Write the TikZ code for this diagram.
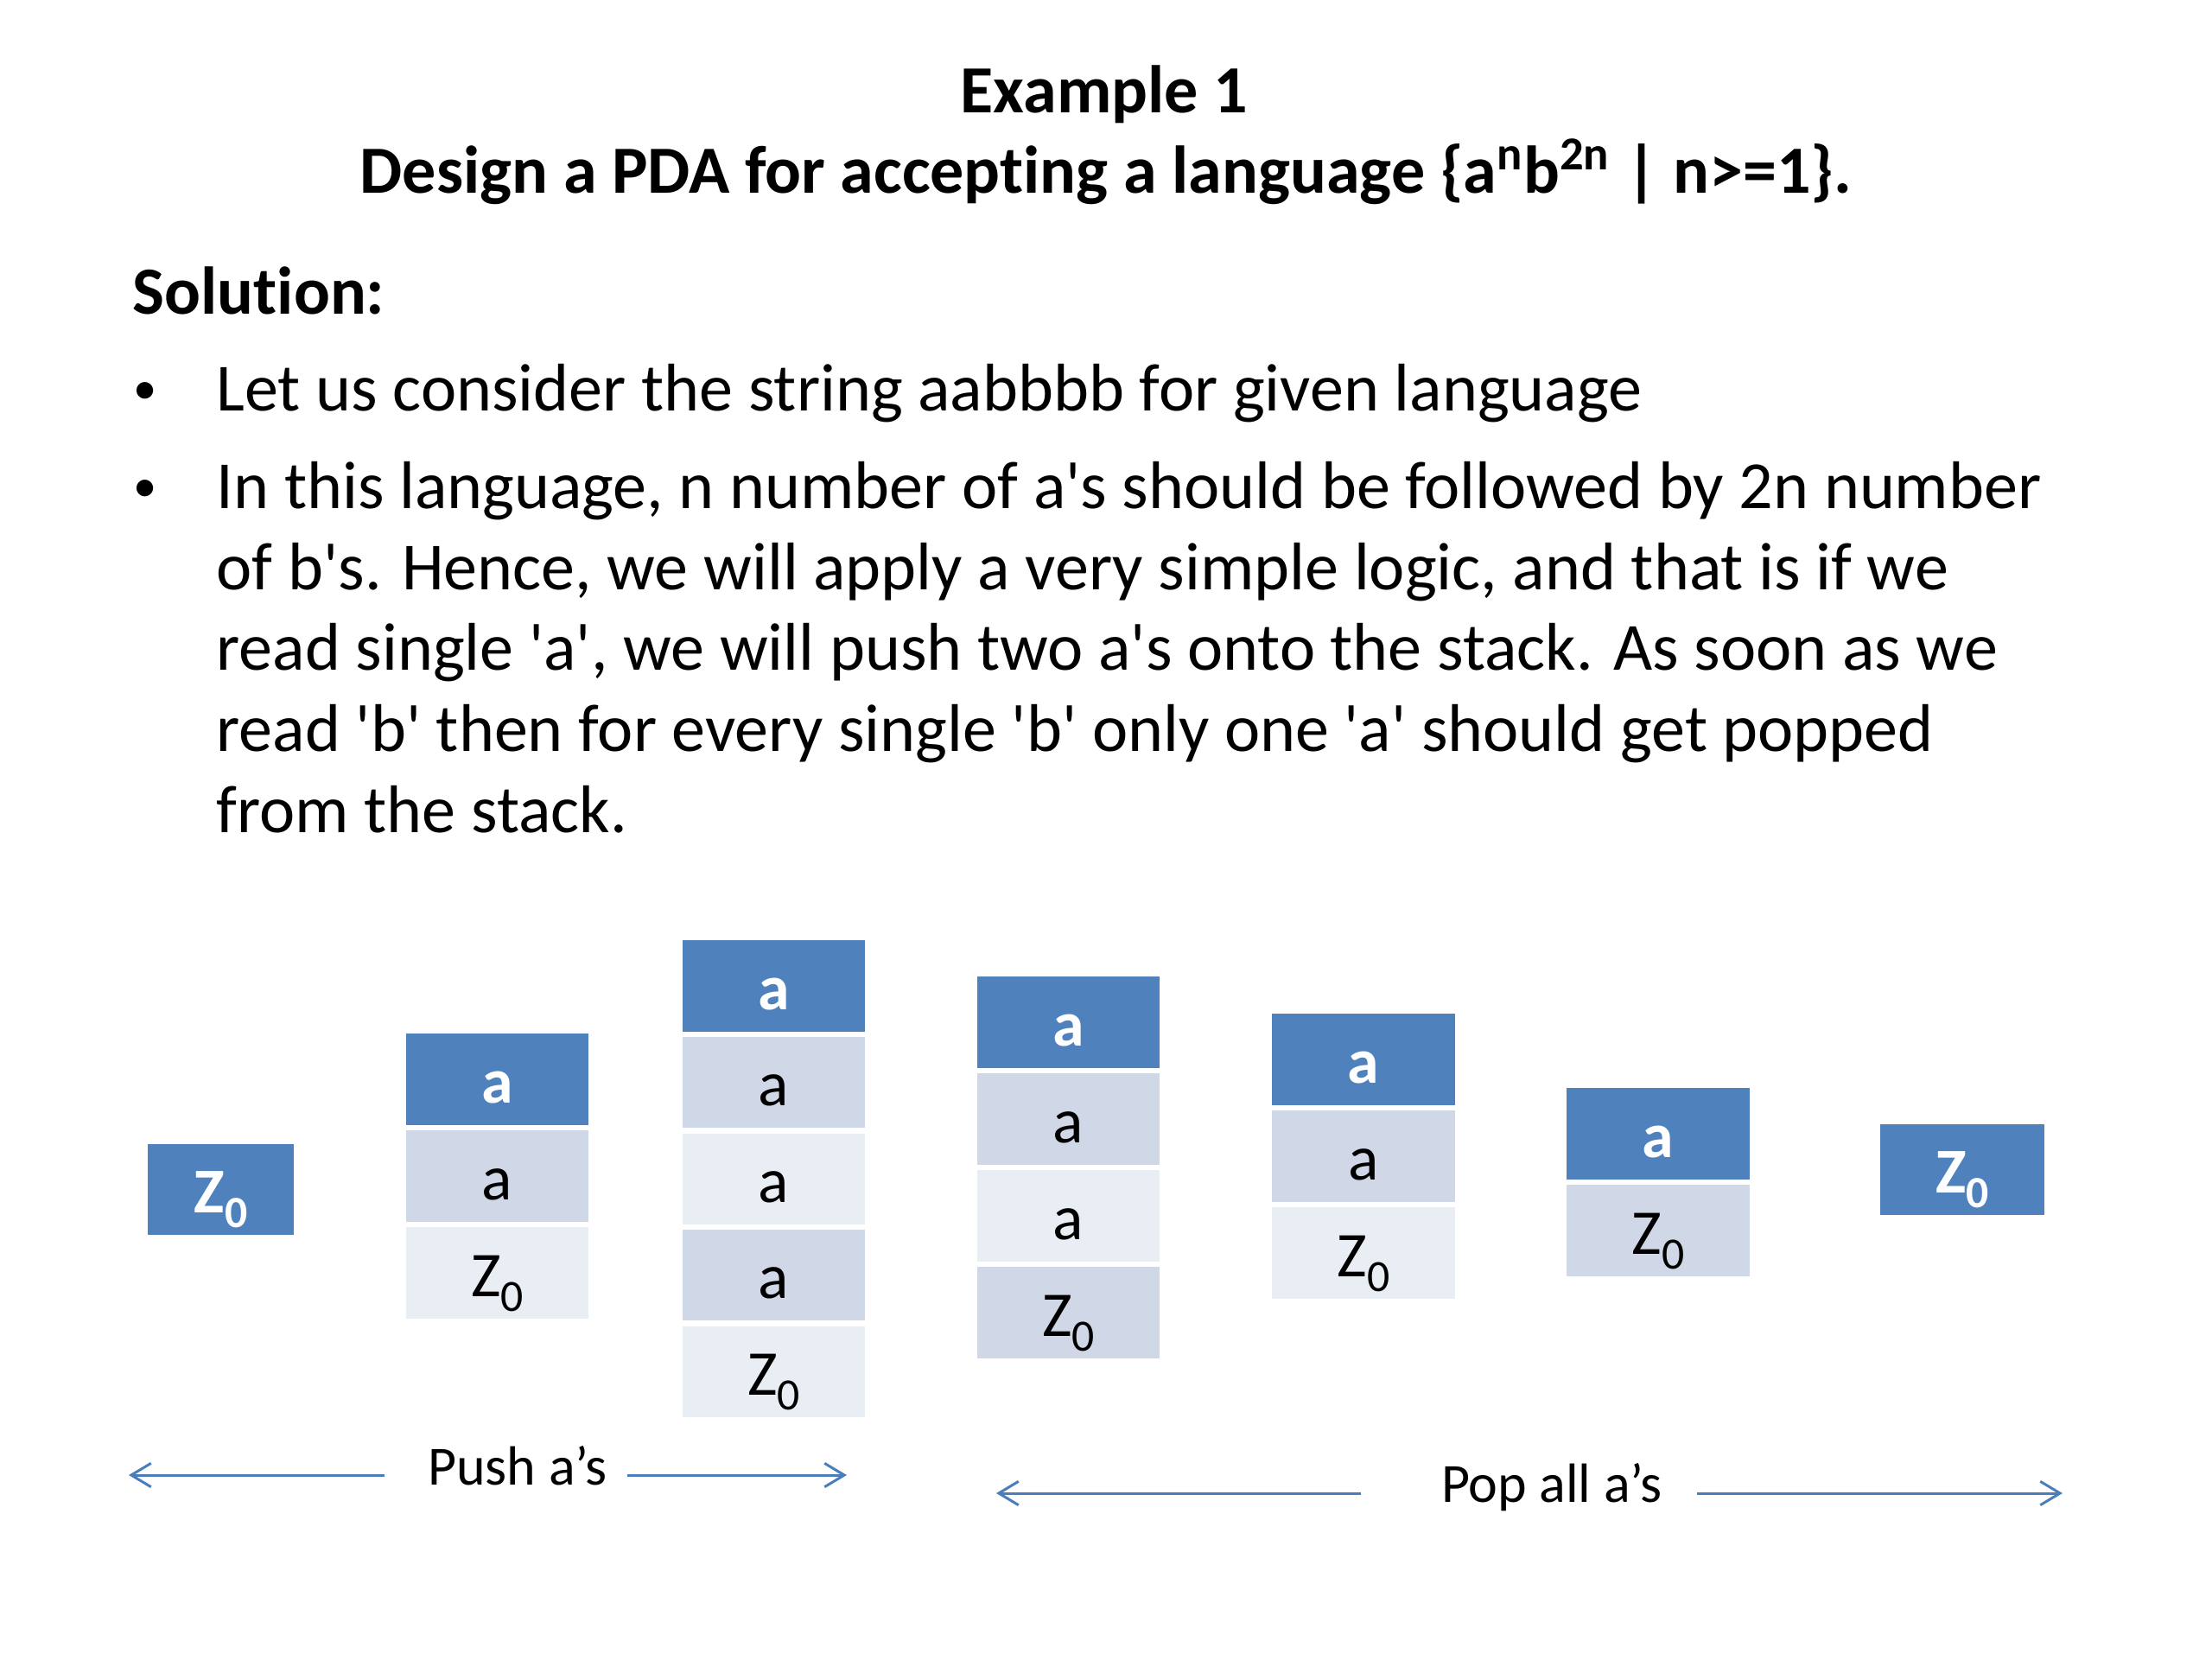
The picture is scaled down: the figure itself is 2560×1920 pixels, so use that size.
\documentclass[tikz,border=0pt]{standalone}
\usepackage{fontspec}
\usepackage{graphicx}
\newfontfamily\calf{Carlito}[Ligatures=NoCommon]
\usetikzlibrary{arrows.meta,calc}
\definecolor{hdr}{HTML}{4F81BD}
\definecolor{bandA}{HTML}{D0D8E8}
\definecolor{bandB}{HTML}{E9EDF4}
\definecolor{arrc}{HTML}{4A7EBB}
\newcommand\zsub{Z\raisebox{-0.23em}{\scalebox{0.7}{0}}}
\begin{document}
\begin{tikzpicture}[x=0.01cm,y=-0.01cm,
  ttl/.style={font=\calf\bfseries\fontsize{22.2pt}{26.7pt}\selectfont, inner sep=0, anchor=base},
  sol/.style={font=\calf\bfseries\fontsize{22.2pt}{26.7pt}\selectfont, inner sep=0, anchor=base west},
  txt/.style={font=\calf\fontsize{22.2pt}{26.7pt}\selectfont, inner sep=0, anchor=base west},
  bul/.style={font=\calf\fontsize{15.5pt}{18pt}\selectfont, inner sep=0, anchor=base},
  cell/.style={minimum width=2.11cm, minimum height=1.05cm, inner sep=0, text height=0.54cm, text depth=0pt,
    font=\calf\fontsize{21pt}{25pt}\selectfont},
  hd/.style={cell, fill=hdr, text=white, font=\calf\bfseries\fontsize{21pt}{25pt}\selectfont},
  bA/.style={cell, fill=bandA, text=black},
  bB/.style={cell, fill=bandB, text=black},
  lbl/.style={font=\calf\fontsize{18.2pt}{22pt}\selectfont, inner sep=0, anchor=base},
  arr/.style={draw=arrc, line width=0.85pt, -{Straight Barb[length=6.5pt,width=7.8pt]}}
]
\useasboundingbox (0,0) rectangle (2560,1920);
\fill[white] (0,0) rectangle (2560,1920);

% title
\node[ttl] (t1) at (1278,130) {Example 1};
\node[ttl] (t2) at (1280,223) {Design a PDA for accepting a language \{a\textsuperscript{n}b\textsuperscript{2n} | n>=1\}.};

% solution
\node[sol] (sol) at (153,363) {Solution:};
\node[bul] (b1) at (168,467) {•};
\node[txt] (l1) at (250,475) {Let us consider the string aabbbb for given language};
\node[bul] (b2) at (168,580) {•};
\node[txt] (l2) at (250,588) {In this language, n number of a's should be followed by 2n number};
\node[txt] (l3) at (250,682) {of b's. Hence, we will apply a very simple logic, and that is if we};
\node[txt] (l4) at (250,775) {read single 'a', we will push two a's onto the stack. As soon as we};
\node[txt] (l5) at (250,869) {read 'b' then for every single 'b' only one 'a' should get popped};
\node[txt] (l6) at (250,963) {from the stack.};

% stack 1
\node[hd, minimum width=1.69cm] (s1a) at (255.5,1376.5) {\zsub};
% stack 2
\node[hd] (s2a) at (575.5,1249) {a};
\node[bA] (s2b) at (575.5,1361) {a};
\node[bB] (s2c) at (575.5,1473) {\zsub};
% stack 3
\node[hd] (s3a) at (895.5,1141) {a};
\node[bA] (s3b) at (895.5,1252.6) {a};
\node[bB] (s3c) at (895.5,1364.2) {a};
\node[bA] (s3d) at (895.5,1475.8) {a};
\node[bB] (s3e) at (895.5,1587.4) {\zsub};
% stack 4
\node[hd] (s4a) at (1236.5,1183) {a};
\node[bA] (s4b) at (1236.5,1295) {a};
\node[bB] (s4c) at (1236.5,1407) {a};
\node[bA] (s4d) at (1236.5,1519) {\zsub};
% stack 5
\node[hd] (s5a) at (1578,1226) {a};
\node[bA] (s5b) at (1578,1338) {a};
\node[bB] (s5c) at (1578,1450) {\zsub};
% stack 6
\node[hd] (s6a) at (1919,1312) {a};
\node[bA] (s6b) at (1919,1424) {\zsub};
% stack 7
\node[hd, minimum width=1.90cm] (s7a) at (2271,1353.5) {\zsub};

% labels and arrows
\node[lbl] (push) at (599,1718) {Push a’s};
\node[lbl] (pop) at (1796,1738) {Pop all a’s};
\coordinate (pushL) at (149,1707);
\coordinate (pushR) at (980,1707);
\coordinate (popL) at (1153,1728);
\coordinate (popR) at (2387,1728);
\draw[arr] ($(push.west |- pushL)+(-50,0)$) -- (pushL);
\draw[arr] ($(push.east |- pushR)+(23,0)$) -- (pushR);
\draw[arr] ($(pop.west |- popL)+(-92,0)$) -- (popL);
\draw[arr] ($(pop.east |- popR)+(39,0)$) -- (popR);
\end{tikzpicture}
\end{document}
